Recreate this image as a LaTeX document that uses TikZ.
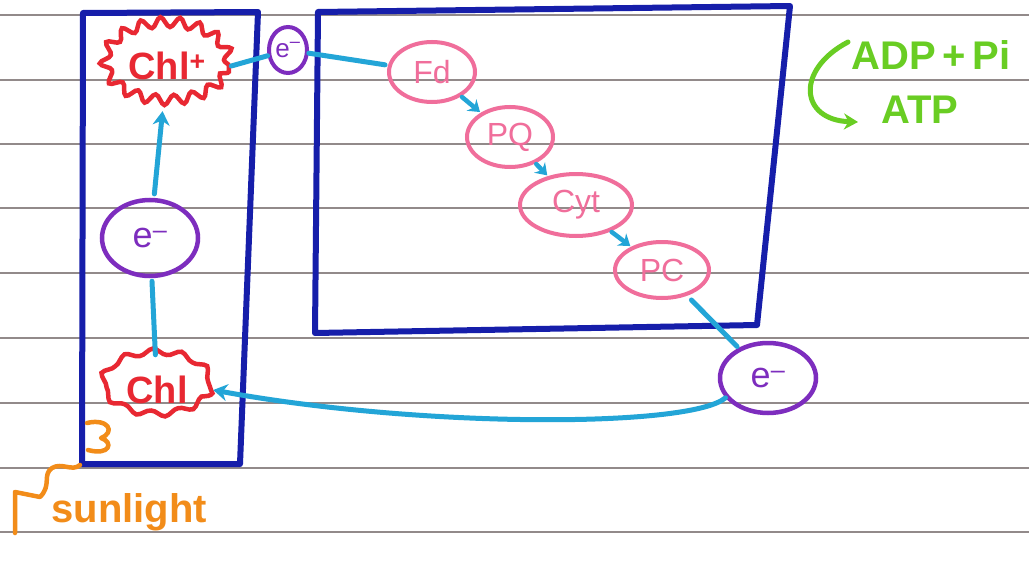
\documentclass[tikz,border=0pt]{standalone}
\usepackage{fontspec}
\setmainfont{Liberation Sans}
\usetikzlibrary{shapes.geometric,arrows.meta,decorations.pathmorphing}
\definecolor{boxblue}{RGB}{22,30,170}
\definecolor{arrcyan}{RGB}{35,165,215}
\definecolor{epurple}{RGB}{125,45,190}
\definecolor{chlred}{RGB}{232,40,50}
\definecolor{cpink}{RGB}{240,110,155}
\definecolor{leafgreen}{RGB}{105,205,35}
\definecolor{sunorange}{RGB}{242,140,25}
\definecolor{ruled}{RGB}{110,100,100}
\tikzset{
  ruleline/.style={draw=ruled, line width=1.6pt, opacity=0.75},
  membrane/.style={draw=boxblue, line width=6pt, line join=round},
  flow/.style={draw=arrcyan, line width=5pt, line cap=round},
  flowtip/.style={flow, -{Stealth[length=14pt,width=17pt]}},
  smalltip/.style={flow, line width=4.5pt, -{Stealth[length=11pt,width=15pt]}, shorten <=1pt, shorten >=1pt},
  electron/.style={ellipse, draw=epurple, line width=4.5pt, text=epurple, inner sep=0pt, font=\fontsize{36}{36}\selectfont},
  carrier/.style={ellipse, draw=cpink, line width=4pt, text=cpink, inner sep=0pt, font=\fontsize{32}{32}\selectfont},
  chlfuzzy/.style={ellipse, draw=chlred, line width=4.5pt, text=chlred, inner sep=0pt, decorate, font=\fontsize{38}{38}\selectfont\bfseries},
  sun/.style={draw=sunorange, line width=4.5pt, line cap=round, line join=round},
  green/.style={text=leafgreen, font=\fontsize{40}{40}\selectfont\bfseries},
}
\begin{document}
\begin{tikzpicture}[x=1pt,y=-1pt]
\useasboundingbox (0,0) rectangle (1029,562);
\fill[white] (0,0) rectangle (1029,562);
% ruled notebook lines
\foreach \yy in {15,80,144,208,273,338,403,468,532}
  \draw[ruleline] (0,\yy) -- (1029,\yy);
% membranes
\draw[membrane] (83,13) -- (258,12) -- (240,464) -- (82,464) -- cycle;
\draw[membrane] (318,12) -- (790,6) -- (757,325) -- (315,333) -- cycle;
% chlorophyll
\node[chlfuzzy, decoration={snake,amplitude=5pt,segment length=19pt}, minimum width=124pt, minimum height=78pt] (Chlp) at (167,66) {Chl\textsuperscript{+}};
\node[chlfuzzy, decoration={snake,amplitude=3pt,segment length=28pt}, minimum width=108pt, minimum height=62pt] (Chl) at (157,390) {Chl};
% electrons
\node[electron, line width=4pt, minimum width=38pt, minimum height=46pt, font=\fontsize{26}{26}\selectfont] (es) at (288,50) {e\textsuperscript{--}};
\node[electron, minimum width=96pt, minimum height=76pt] (em) at (150,238) {e\textsuperscript{--}};
\node[electron, minimum width=96pt, minimum height=70pt] (eb) at (768,378) {e\textsuperscript{--}};
% carriers
\node[carrier, minimum width=86pt, minimum height=60pt] (Fd) at (432,72) {Fd};
\node[carrier, minimum width=86pt, minimum height=60pt] (PQ) at (510,137) {PQ};
\node[carrier, minimum width=112pt, minimum height=62pt] (Cyt) at (576,205) {Cyt};
\node[carrier, minimum width=94pt, minimum height=56pt] (PC) at (662,270) {PC};
% electron flow
\draw[flow] (Chlp.east) -- (es);
\draw[flow, shorten >=3pt] (es) -- (Fd);
\draw[smalltip] (Fd) -- (PQ);
\draw[smalltip] (PQ) -- (Cyt);
\draw[smalltip] (Cyt) -- (PC);
\draw[flow, shorten <=6pt, shorten >=2pt] (PC) -- (eb);
\draw[flowtip] (eb.205) .. controls (690,428) and (420,428) .. (Chl.east);
\draw[flow, shorten <=2pt, shorten >=3pt] (Chl) -- (em);
\draw[flowtip, shorten <=4pt, shorten >=4pt] (em) -- (Chlp);
% sunlight
\draw[sun] (15,533) -- (15,492) -- (40,497) .. controls (52,485) and (42,475) .. (52,468) .. controls (62,462) and (72,472) .. (80,465);
\draw[sun] (87,423) .. controls (108,418) and (116,432) .. (101,438) .. controls (114,442) and (110,456) .. (88,450);
\node[text=sunorange, font=\fontsize{40}{40}\selectfont\bfseries, anchor=west] (sunlabel) at (48,512) {sunlight};
% ATP synthesis
\node[green, anchor=west] (adp) at (848,55) {ADP\,+\,Pi};
\node[green, anchor=west] (atp) at (878,110) {ATP};
\coordinate (gstart) at (848,42);
\coordinate (gend) at (858,122);
\draw[draw=leafgreen, line width=5pt, line cap=round, -{Stealth[length=14pt,width=16pt]}] (gstart) .. controls (795,70) and (800,120) .. (gend);
\end{tikzpicture}
\end{document}
